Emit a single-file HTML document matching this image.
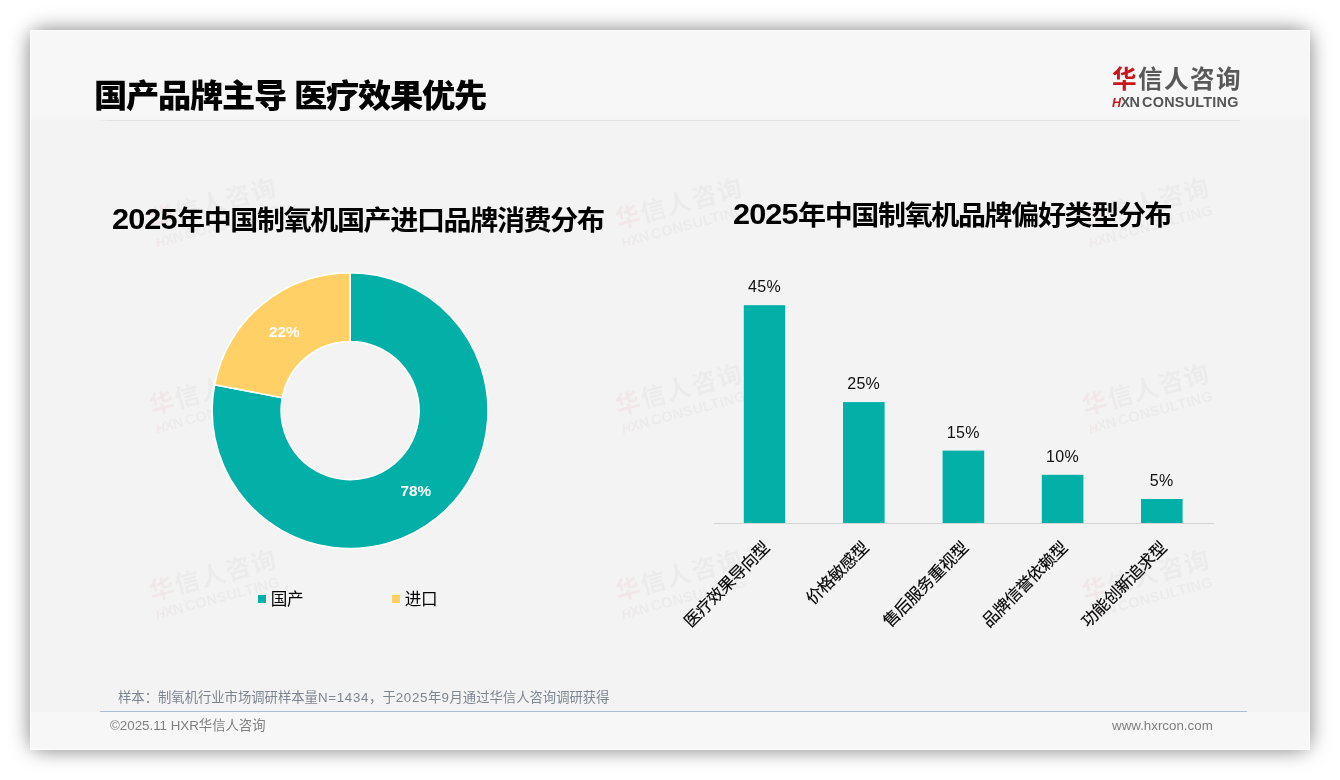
<!DOCTYPE html>
<html lang="zh-CN">
<head>
<meta charset="utf-8">
<title>国产品牌主导 医疗效果优先</title>
<style>
*{margin:0;padding:0;box-sizing:border-box}
html,body{width:1340px;height:780px;overflow:hidden;background:#fff}
body{position:relative;font-family:"Liberation Sans","Noto Sans CJK SC",sans-serif;color:#000}
.card{position:absolute;left:30px;top:30px;width:1280px;height:720px;background:#f3f3f3;overflow:hidden}
.sh{position:absolute;left:30px;top:30px;width:1280px;height:720px;border-radius:13px;box-shadow:0 0 20px rgba(0,0,0,.5)}
.card .top{position:absolute;left:0;top:0;width:1280px;height:94px;background:linear-gradient(#f7f7f7 0,#f7f7f7 83px,#f3f3f3 91px)}
.card .bot{position:absolute;left:0;top:682px;width:1280px;height:38px;background:#f7f7f7}
.abs{position:absolute;white-space:nowrap;line-height:1}
.h1{left:64.4px;top:51px;font-size:31.4px;letter-spacing:-1.2px;font-weight:900;color:#000;transform:scaleX(1.06);transform-origin:0 0}
.hline{position:absolute;left:68px;top:90.3px;width:1142px;height:1px;background:linear-gradient(90deg,rgba(226,226,226,0),#e2e2e2 12px)}
.fline{position:absolute;left:70px;top:681px;width:1147px;height:1px;background:#aabdd3}
.logo{position:absolute;width:130px;height:44px}
.logo .cn{position:absolute;left:0;top:1.5px;font-size:24.6px;line-height:28px;font-weight:bold;color:#595959;white-space:nowrap;letter-spacing:1.4px}
.logo .cn b{color:#c8161d;font-weight:bold}
.logo .en{position:absolute;left:0;top:31.2px;font-size:14.4px;line-height:14px;font-weight:bold;color:#555;white-space:nowrap;letter-spacing:.25px;word-spacing:-1.5px}
.logo .en u{text-decoration:none;letter-spacing:-.6px}
.logo .en b{color:#c8161d;font-size:12.5px;font-style:italic;letter-spacing:-.5px}
.wm{opacity:.045;transform:rotate(-15deg) scale(1.01);transform-origin:50% 50%}
.ct{font-size:27.2px;letter-spacing:-1.3px;font-weight:bold;transform:scaleX(1.03);transform-origin:0 0;line-height:30px}
.ct i{font-style:normal;font-size:29.8px;letter-spacing:-.9px;margin-right:.4px;position:relative;top:-.6px}
.note{font-size:13.33px;color:#7f7f7f}
.note.b{color:#7d8590}
.note i{font-style:normal;letter-spacing:.68px}
.leg{font-size:16.6px;letter-spacing:-.3px;margin-top:.9px;margin-left:-.2px}
.sq{position:absolute;width:8px;height:8px}
svg{position:absolute;left:0;top:0}
svg text{font-family:"Liberation Sans","Noto Sans CJK SC",sans-serif}
.edge{position:absolute;left:0;top:0;width:1280px;height:720px;border:1px solid #fcfcfc;pointer-events:none}
</style>
</head>
<body>
<div class="sh"></div>
<div class="card">
  <div class="top"></div>
  <div class="bot"></div>

  <!-- watermarks -->
  <div class="logo wm" style="left:119.5px;top:158.0px"><div class="cn"><b>华</b>信人咨询</div><div class="en"><b>H</b><u>XN</u> CONSULTING</div></div>
  <div class="logo wm" style="left:586.0px;top:158.0px"><div class="cn"><b>华</b>信人咨询</div><div class="en"><b>H</b><u>XN</u> CONSULTING</div></div>
  <div class="logo wm" style="left:1052.5px;top:158.0px"><div class="cn"><b>华</b>信人咨询</div><div class="en"><b>H</b><u>XN</u> CONSULTING</div></div>
  <div class="logo wm" style="left:119.5px;top:344.0px"><div class="cn"><b>华</b>信人咨询</div><div class="en"><b>H</b><u>XN</u> CONSULTING</div></div>
  <div class="logo wm" style="left:586.0px;top:344.0px"><div class="cn"><b>华</b>信人咨询</div><div class="en"><b>H</b><u>XN</u> CONSULTING</div></div>
  <div class="logo wm" style="left:1052.5px;top:344.0px"><div class="cn"><b>华</b>信人咨询</div><div class="en"><b>H</b><u>XN</u> CONSULTING</div></div>
  <div class="logo wm" style="left:119.5px;top:530.0px"><div class="cn"><b>华</b>信人咨询</div><div class="en"><b>H</b><u>XN</u> CONSULTING</div></div>
  <div class="logo wm" style="left:586.0px;top:530.0px"><div class="cn"><b>华</b>信人咨询</div><div class="en"><b>H</b><u>XN</u> CONSULTING</div></div>
  <div class="logo wm" style="left:1052.5px;top:530.0px"><div class="cn"><b>华</b>信人咨询</div><div class="en"><b>H</b><u>XN</u> CONSULTING</div></div>

  <div class="abs h1">国产品牌主导 医疗效果优先</div>
  <div class="hline"></div>
  <div class="logo" style="left:1082px;top:34px"><div class="cn"><b>华</b>信人咨询</div><div class="en"><b>H</b><u>XN</u> CONSULTING</div></div>

  <div class="abs ct" style="left:81.8px;top:174.6px"><i>2025</i>年中国制氧机国产进口品牌消费分布</div>
  <div class="abs ct" style="left:703px;top:169.6px"><i>2025</i>年中国制氧机品牌偏好类型分布</div>

  <svg width="1280" height="720" viewBox="30 30 1280 720">
    <!-- donut -->
    <g stroke="#fff" stroke-width="1.6" stroke-linejoin="round">
      <path fill="#02b0a8" d="M350.10,272.60 A138.0,138.0 0 1 1 214.54,384.74 L282.32,397.67 A69.0,69.0 0 1 0 350.10,341.60 Z"/>
      <path fill="#ffd066" d="M214.54,384.74 A138.0,138.0 0 0 1 350.10,272.60 L350.10,341.60 A69.0,69.0 0 0 0 282.32,397.67 Z"/>
    </g>
    <text x="415.8" y="496" font-size="15.3" font-weight="bold" fill="#fff" text-anchor="middle">78%</text>
    <text x="284.3" y="337.1" font-size="15.3" font-weight="bold" fill="#fff" text-anchor="middle">22%</text>
    <!-- bars -->
    <g fill="#02b0a8">
      <rect x="743.8" y="305.2" width="41.4" height="218"/>
      <rect x="843" y="402.1" width="41.6" height="121.1"/>
      <rect x="942.6" y="450.6" width="41.6" height="72.6"/>
      <rect x="1041.8" y="474.8" width="41.6" height="48.4"/>
      <rect x="1141" y="499" width="41.6" height="24.2"/>
    </g>
    <rect x="714" y="523" width="500" height="1" fill="#d4d4d4"/>
    <g font-size="16" letter-spacing=".3" fill="#111" text-anchor="middle">
      <text x="764.5" y="292">45%</text>
      <text x="863.7" y="389">25%</text>
      <text x="963.3" y="437.6">15%</text>
      <text x="1062.5" y="461.8">10%</text>
      <text x="1161.7" y="486">5%</text>
    </g>
    <g font-size="16.5" letter-spacing="-.5" fill="#000" stroke="#000" stroke-width=".15" text-anchor="end">
      <text transform="translate(770.3,549) rotate(-45)">医疗效果导向型</text>
      <text transform="translate(869.5,549) rotate(-45)">价格敏感型</text>
      <text transform="translate(969.1,549) rotate(-45)">售后服务重视型</text>
      <text transform="translate(1068.3,549) rotate(-45)">品牌信誉依赖型</text>
      <text transform="translate(1167.5,549) rotate(-45)">功能创新追求型</text>
    </g>
  </svg>

  <div class="sq" style="left:228px;top:565px;background:#02b0a8"></div>
  <div class="abs leg" style="left:241px;top:561px">国产</div>
  <div class="sq" style="left:362px;top:565px;background:#ffd066"></div>
  <div class="abs leg" style="left:375px;top:561px">进口</div>

  <div class="abs note b" style="left:88px;top:661px">样本：制氧机行业市场调研样本量<i>N=1434</i>，于<i>2025</i>年<i>9</i>月通过华信人咨询调研获得</div>
  <div class="fline"></div>
  <div class="abs note" style="left:80px;top:689px">©2025.11 HXR华信人咨询</div>
  <div class="abs note" style="left:1082px;top:689px">www.hxrcon.com</div>
  <div class="edge"></div>
</div>
</body>
</html>
